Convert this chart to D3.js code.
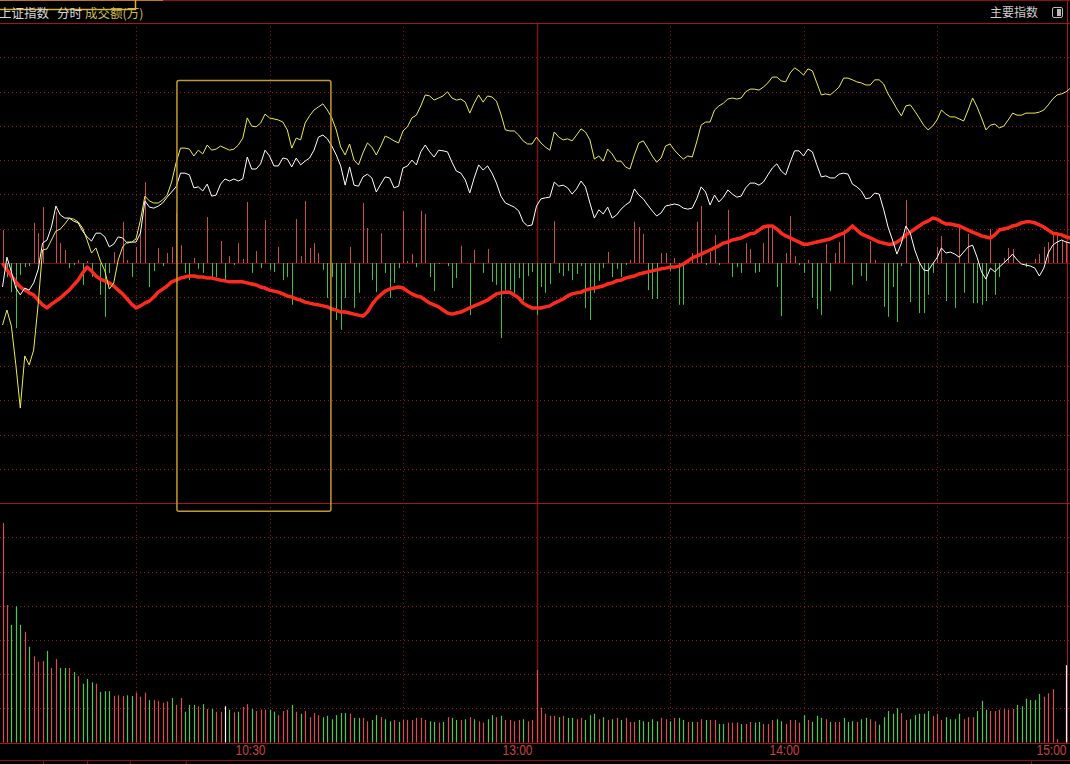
<!DOCTYPE html>
<html>
<head>
<meta charset="utf-8">
<script src="https://cdn.jsdelivr.net/npm/d3@7"></script>
<style>
  html, body { margin: 0; padding: 0; background: #000; overflow: hidden; }
  svg { display: block; }
</style>
</head>
<body>
<div id="chart"></div>
<script>
// 分时数据：9:30 - 15:00，每分钟一个点（共 241 个），单位：点（相对昨收）

// 白线：上证指数
const indexLine = [
  -7.0, 1.7, -2.6, -7.3, -9.3, -7.3, -7.9, -5.8, -2.0, 5.8,
  6.7, 10.5, 16.6, 14.0, 13.1, 13.1, 12.2, 11.7, 9.3, 7.6,
  6.4, 8.7, 8.7, 7.6, 4.7, 5.5, 7.6, 7.3, 5.8, 6.1,
  6.1, 8.7, 18.1, 16.3, 16.0, 16.6, 17.5, 19.2, 20.7, 22.2,
  26.2, 26.2, 25.7, 21.9, 22.2, 21.0, 23.0, 19.5, 19.8, 23.0,
  24.5, 23.9, 24.5, 23.9, 24.5, 30.9, 27.4, 27.4, 28.9, 32.9,
  31.2, 28.3, 28.3, 30.6, 30.3, 28.0, 30.6, 28.6, 29.7, 30.6,
  32.9, 36.7, 37.3, 36.2, 34.1, 31.5, 28.3, 22.7, 28.0, 22.7,
  22.4, 25.1, 25.9, 24.8, 20.7, 23.0, 25.1, 24.8, 21.9, 22.4,
  27.7, 28.3, 30.0, 28.6, 32.4, 34.4, 32.4, 30.9, 32.9, 32.7,
  32.4, 29.4, 26.8, 26.2, 24.2, 20.4, 24.8, 28.6, 27.1, 28.3,
  26.2, 23.3, 19.5, 17.5, 16.9, 16.3, 15.2, 12.0, 10.8, 11.1,
  16.6, 18.7, 19.0, 19.2, 23.6, 22.4, 22.7, 21.9, 20.1, 21.6,
  23.9, 22.2, 17.5, 13.1, 15.5, 14.3, 16.3, 13.1, 14.0, 15.7,
  16.9, 17.8, 21.6, 19.8, 18.7, 16.9, 15.2, 13.7, 14.6, 16.6,
  16.9, 17.2, 16.9, 16.0, 15.7, 16.0, 18.7, 22.2, 20.7, 16.9,
  19.8, 17.8, 19.2, 21.3, 20.1, 19.2, 19.5, 21.9, 23.3, 23.3,
  22.7, 23.6, 25.7, 27.7, 28.9, 26.8, 25.7, 29.4, 32.7, 32.7,
  31.2, 33.2, 32.4, 28.6, 25.1, 25.4, 24.8, 24.8, 25.9, 26.2,
  25.9, 23.0, 22.2, 21.0, 18.7, 19.0, 20.4, 20.1, 15.7, 10.5,
  6.7, 2.6, 5.8, 10.8, 8.7, 3.8, 0.3, -2.0, -2.3, -0.3,
  1.5, 4.4, 2.9, 3.2, 2.6, 1.7, 3.2, 4.7, 5.2, 1.7,
  -2.6, -4.7, -1.5, -2.6, -1.2, 0.0, 1.2, 2.6, 0.9, -0.3,
  -0.6, -0.9, -1.5, -3.8, -1.5, 2.9, 5.2, 6.1, 6.7, 6.1,
  5.8
];

// 黄线：不含加权指数
const equalLine = [
  -18.1, -13.7, -18.4, -29.7, -42.3, -27.1, -29.7, -25.4, -12.2, 3.8,
  4.1, 6.7, 9.3, 9.9, 11.4, 13.1, 12.8, 12.0, 10.2, 6.7,
  2.9, 4.4, 0.6, -2.3, -7.6, -5.8, 0.9, 4.7, 6.1, 6.1,
  7.0, 12.5, 19.5, 18.1, 17.5, 17.5, 18.4, 19.8, 23.6, 29.2,
  33.5, 33.5, 33.2, 31.2, 32.9, 31.8, 34.4, 32.9, 33.2, 34.1,
  33.5, 32.9, 33.2, 34.4, 36.4, 42.3, 39.9, 39.7, 40.8, 43.4,
  42.3, 42.0, 41.7, 41.1, 38.8, 33.5, 36.4, 35.9, 40.8, 42.9,
  44.6, 45.5, 46.4, 44.6, 42.3, 38.8, 33.8, 31.5, 34.7, 30.0,
  28.6, 32.1, 35.0, 33.8, 31.5, 34.1, 37.0, 36.4, 35.6, 35.0,
  38.5, 39.7, 42.3, 43.1, 45.8, 49.0, 48.7, 47.5, 48.1, 48.7,
  49.9, 48.1, 47.5, 47.8, 46.9, 43.7, 46.6, 49.0, 46.9, 48.7,
  48.4, 47.2, 43.4, 38.8, 38.5, 38.5, 37.3, 35.6, 34.7, 34.7,
  36.7, 35.0, 33.8, 32.9, 38.2, 36.7, 35.9, 36.2, 35.6, 37.3,
  39.1, 38.2, 35.9, 30.3, 31.2, 29.7, 33.2, 31.8, 29.7, 29.7,
  28.0, 27.4, 31.5, 35.0, 35.6, 33.5, 31.2, 29.4, 30.6, 34.1,
  34.7, 32.9, 31.5, 30.3, 31.2, 30.9, 35.3, 40.2, 41.1, 41.1,
  44.6, 45.8, 46.6, 47.8, 48.1, 47.8, 48.1, 49.9, 50.7, 50.7,
  50.4, 51.3, 52.5, 54.2, 54.2, 53.1, 52.8, 55.4, 56.9, 56.0,
  54.8, 56.6, 56.0, 52.5, 49.0, 49.3, 49.0, 50.1, 51.3, 53.9,
  53.9, 53.4, 52.8, 52.5, 51.9, 51.9, 53.4, 53.4, 52.2, 49.3,
  47.2, 44.9, 42.9, 45.8, 46.1, 44.3, 42.3, 40.2, 38.8, 39.9,
  41.7, 44.6, 43.4, 42.6, 42.6, 42.0, 41.4, 44.6, 48.1, 45.5,
  42.3, 38.8, 40.2, 40.5, 39.4, 39.9, 41.7, 43.7, 43.1, 43.1,
  43.7, 43.7, 43.7, 44.0, 44.6, 46.1, 47.8, 49.0, 49.3, 49.9,
  51.0
];

// 红色粗线
const trendLine = [
  0.0, -2.0, -3.8, -5.5, -7.0, -7.9, -8.7, -9.3, -10.8, -12.2,
  -13.1, -12.0, -11.1, -10.2, -9.0, -7.9, -6.4, -5.0, -2.9, -1.2,
  -2.3, -3.8, -4.7, -5.2, -5.8, -6.7, -7.9, -9.0, -10.5, -12.0,
  -13.1, -12.5, -11.7, -11.1, -9.9, -8.5, -7.6, -6.7, -5.5, -5.0,
  -4.4, -4.1, -3.8, -3.8, -4.1, -4.1, -4.4, -4.4, -4.7, -5.0,
  -5.2, -5.5, -5.5, -5.5, -5.5, -5.8, -6.1, -6.4, -7.0, -7.3,
  -7.9, -8.2, -8.5, -9.0, -9.6, -9.9, -10.5, -10.8, -11.4, -11.7,
  -12.0, -12.2, -12.5, -12.8, -13.4, -13.7, -14.3, -14.3, -14.6, -14.9,
  -15.2, -15.5, -14.3, -12.2, -10.5, -9.3, -8.2, -7.6, -7.3, -7.0,
  -7.3, -8.2, -9.0, -9.6, -9.9, -10.8, -11.7, -12.2, -12.8, -13.7,
  -14.6, -14.9, -14.6, -14.3, -13.7, -13.1, -12.5, -12.0, -11.4, -10.8,
  -9.9, -9.0, -8.7, -8.5, -8.5, -9.3, -10.2, -11.7, -12.5, -13.1,
  -13.1, -13.1, -12.8, -12.5, -11.7, -11.1, -10.5, -9.6, -9.0, -8.7,
  -8.5, -7.9, -7.6, -7.3, -7.0, -6.7, -6.1, -5.8, -5.2, -5.0,
  -4.4, -4.1, -3.8, -3.2, -2.9, -2.6, -2.3, -2.0, -1.7, -1.5,
  -1.2, -1.2, -0.9, -0.3, 0.6, 1.5, 2.0, 2.6, 3.2, 3.8,
  4.4, 5.0, 5.8, 6.1, 6.7, 7.0, 7.3, 7.9, 8.5, 8.7,
  9.6, 10.5, 10.8, 10.8, 9.9, 8.7, 7.9, 7.3, 6.7, 6.1,
  5.5, 5.5, 5.8, 6.1, 6.4, 6.7, 7.0, 7.6, 8.2, 8.7,
  9.6, 10.8, 9.6, 8.5, 7.9, 7.3, 6.7, 6.1, 5.8, 5.5,
  5.5, 6.1, 7.0, 8.2, 9.0, 9.9, 10.8, 11.7, 12.2, 13.1,
  12.8, 12.0, 11.4, 11.4, 11.1, 10.8, 10.2, 9.6, 9.0, 8.5,
  7.9, 7.6, 7.3, 8.2, 9.6, 9.9, 10.2, 10.8, 11.1, 11.7,
  12.0, 12.0, 11.7, 11.1, 10.5, 9.6, 8.7, 8.5, 8.2, 7.6,
  7.3
];

// 红绿柱（正为红，负为绿）
const powerBars = [
  9.6, -4.1, -8.5, -19.0, -3.5, -1.2, -0.9, 11.7, 8.7, 16.3,
  0, 0, 14.9, 5.8, 3.8, -1.5, -0.6, 0.9, -6.4, 0.6,
  -4.1, 0, -9.3, -15.7, -2.9, 3.2, 0, 12.0, 0.9, -4.1,
  4.7, 9.6, 23.6, -7.0, -2.3, 4.4, -0.9, 2.9, 4.7, 14.6,
  5.2, -2.9, -5.0, 1.5, -1.7, -2.9, 13.4, -4.1, -4.1, 6.4,
  -5.0, 2.0, -0.6, 5.8, 1.2, 17.8, -2.9, 3.5, -1.5, 12.5,
  -2.0, -2.6, 4.7, -5.0, -4.1, -12.2, 12.8, 2.0, 18.1, 4.4,
  5.8, 2.9, -2.0, -10.2, -4.1, -16.6, -19.5, -10.2, 4.7, -13.1,
  -8.7, 17.5, 10.2, -5.0, -8.5, 8.7, -2.9, -10.2, -5.8, -1.5,
  15.2, 0.6, 2.6, -1.2, 15.2, 14.3, -4.1, -8.2, -0.3, 0,
  -0.9, -7.3, -4.4, 5.0, 0, -15.2, 3.8, 0, -2.9, 4.1,
  -5.5, -6.4, -21.9, -8.2, -7.9, -8.7, -4.4, -10.8, -3.8, -2.6,
  -15.2, -7.0, -8.7, -6.1, 12.2, -2.9, -3.8, -2.3, -5.0, -3.2,
  -0.9, -13.1, -16.6, -8.7, -5.2, -1.5, 3.2, -4.1, -1.7, -4.1,
  -0.6, 0.9, 12.0, 10.5, 8.5, -7.9, -10.5, -10.5, 2.9, 2.9,
  -2.3, 1.5, -12.2, -12.2, 0.9, 2.9, 12.0, 16.6, -0.6, 3.2,
  8.2, -0.6, 0, 15.5, -4.1, -1.2, -2.9, 5.8, 4.1, -2.9,
  -2.6, 5.8, 10.8, 10.8, -7.0, -15.5, 2.9, 13.7, 2.0, -0.6,
  -2.9, 0.9, -10.2, -13.4, -15.2, 5.5, -8.2, 2.9, 6.1, 9.6,
  0, -6.4, 0, -3.8, -5.2, 6.4, 0.9, 0, -12.8, -15.7,
  -7.0, -17.2, -0.9, 18.4, -11.4, 0, -14.6, -14.6, -9.3, -2.9,
  4.7, 7.9, -11.1, 0, -13.1, 10.8, -8.7, 8.5, -11.7, -11.7,
  -12.2, -11.1, 9.9, -9.3, -4.1, 1.5, 4.4, 4.1, 0, 0,
  -1.2, 0, 1.2, 2.6, 4.7, 6.1, 8.7, 8.7, 6.7, 6.4,
  0
];

// 成交额
const volume = [
  321, 201, 172, 199, 172, 162, 140, 126, 118, 119,
  134, 109, 122, 109, 109, 109, 103, 97, 86, 93,
  88, 86, 74, 75, 75, 68, 69, 68, 69, 68,
  73, 67, 73, 62, 62, 61, 58, 60, 65, 55,
  65, 45, 55, 55, 53, 56, 49, 49, 45, 45,
  53, 48, 44, 45, 52, 56, 49, 46, 48, 48,
  48, 45, 40, 46, 48, 55, 45, 42, 46, 37,
  43, 40, 37, 39, 34, 40, 43, 43, 42, 36,
  36, 36, 31, 33, 40, 37, 34, 31, 33, 30,
  33, 33, 33, 36, 36, 33, 31, 30, 29, 30,
  37, 36, 33, 33, 34, 37, 34, 31, 29, 34,
  40, 37, 39, 33, 33, 31, 33, 34, 31, 33,
  106, 51, 42, 39, 39, 37, 39, 36, 36, 34,
  36, 33, 40, 42, 34, 37, 33, 34, 36, 33,
  36, 30, 30, 33, 31, 30, 34, 31, 36, 34,
  31, 36, 36, 33, 30, 30, 30, 34, 33, 33,
  33, 27, 27, 29, 29, 29, 27, 27, 30, 29,
  30, 27, 27, 33, 34, 31, 27, 33, 33, 29,
  40, 33, 30, 39, 36, 34, 30, 30, 30, 36,
  30, 31, 30, 34, 36, 34, 31, 26, 37, 46,
  42, 50, 43, 33, 34, 40, 42, 42, 46, 39,
  42, 33, 37, 34, 34, 42, 34, 37, 37, 46,
  61, 48, 46, 46, 48, 49, 48, 49, 55, 53,
  64, 62, 62, 71, 67, 72, 78, 5, 0, 113,
  0
];

// 成交额柱颜色：R 涨 / G 跌 / W 平
const volumeDir = [
  "RRGGGRGRRR", "GRRGGRGRGG", "GRGGGRRRGG", "RRRGRRRRGR", "RGGGRGRGRR",
  "WGRGRRGRRR", "GGRRRGRGRR", "RRGGGGGGRG", "GRRGGRGGRG", "RRRRRRGGRG",
  "RGGRGRGRRG", "GRGRRRRGRR", "RRRRRGRGGR", "RGGGRGRGRG", "RRRGGGGGRR",
  "GRGGRGRRGR", "RGGRRRGRRG", "GRRRGGRRRR", "GRGGGRGRRG", "GGRGGRRGGG",
  "GGRRGGGGGR", "RRGGGGRRRG", "GGRRRRRRGG", "GGGGRRRRRW", "R"
].join("").split("");

// 时间轴
const tickMinutes = [60, 120, 180, 240];
const tickLabels = ["10:30", "13:00", "14:00", "15:00"];
const gridMinutes = [30, 60, 90, 150, 180, 210];
const noonMinute = 120;

// 选框：[起始分钟, 结束分钟, 上沿(点), 下沿(点)]
const selectBox = [39.2, 73.8, 53.2, -72.4];

const colors = {
  grid: "#8e1c1c",
  frame: "#a3161a",
  white: "#ffffff",
  yellow: "#eded4c",
  trend: "#ff2a1e",
  barUp: "#cc4c4c",
  barDown: "#3cc23c",
  volUp: "#d84e4e",
  volDown: "#4cc84c",
  label: "#c84040"
};

function drawChart() {
  const width = 1070, height = 764;
  const svg = d3.select("#chart").append("svg")
    .attr("width", width)
    .attr("height", height)
    .style("background", "#000");

  // 比例尺
  const x = d3.scaleLinear().domain([0, 240]).range([2.5, 1070.5]);
  const yMain = d3.scaleLinear().domain([-70, 70]).range([503.1, 22.9]);
  const yVol = d3.scaleLinear().domain([0, 350]).range([742.5, 503.1]);
  const px = v => Math.round(v) + 0.5;

  // 网格
  const grid = svg.append("g");
  grid.selectAll(".hmain")
    .data(d3.range(-60, 70, 10).filter(d => d !== 0))
    .enter().append("line")
    .attr("x1", 0).attr("x2", width)
    .attr("y1", d => px(yMain(d))).attr("y2", d => px(yMain(d)))
    .attr("stroke", colors.grid).attr("stroke-dasharray", "1,3");
  grid.selectAll(".hvol")
    .data(d3.range(50, 350, 50))
    .enter().append("line")
    .attr("x1", 0).attr("x2", width)
    .attr("y1", d => px(yVol(d))).attr("y2", d => px(yVol(d)))
    .attr("stroke", colors.grid).attr("stroke-dasharray", "1,3");
  grid.selectAll(".vgrid")
    .data(gridMinutes)
    .enter().append("line")
    .attr("x1", d => px(x(d))).attr("x2", d => px(x(d)))
    .attr("y1", yMain.range()[1]).attr("y2", yVol(0))
    .attr("stroke", colors.grid).attr("stroke-dasharray", "1,3");
  grid.append("line")
    .attr("x1", px(x(noonMinute))).attr("x2", px(x(noonMinute)))
    .attr("y1", yMain.range()[1]).attr("y2", yVol(0))
    .attr("stroke", "#801010").attr("stroke-width", 1.5);

  // 边框
  const frame = svg.append("g").attr("stroke", colors.frame).attr("stroke-width", 1);
  [yMain.range()[1], yMain.range()[0], yVol(0)].forEach(y => {
    frame.append("line").attr("x1", 0).attr("x2", width).attr("y1", px(y)).attr("y2", px(y));
  });
  frame.append("line").attr("x1", 0).attr("x2", width)
    .attr("y1", px(yMain(0))).attr("y2", px(yMain(0))).attr("stroke", "#7a1010");
  frame.append("line").attr("x1", 1067.5).attr("x2", 1067.5).attr("y1", 0).attr("y2", yVol(0));
  frame.append("line").attr("x1", 163).attr("x2", width).attr("y1", 0.5).attr("y2", 0.5).attr("stroke", "#8a1212");
  frame.append("line").attr("x1", 0).attr("x2", width).attr("y1", 760.5).attr("y2", 760.5).attr("stroke", "#8a1212");
  [43.5, 87.5, 130.5, 186.5, 1031.5].forEach(xx => {
    frame.append("line").attr("x1", xx).attr("x2", xx).attr("y1", 760).attr("y2", 764).attr("stroke", "#8a1212");
  });

  // 标题栏
  svg.append("path").attr("d", "M0,0.5H163").attr("stroke", "#c07a1a").attr("fill", "none");
  svg.append("path").attr("d", "M0,9.5H135.5V0").attr("stroke", "#e0b020").attr("stroke-width", 1.5).attr("fill", "none");
  const title = svg.append("g")
    .style("font-family", "'Noto Sans CJK SC', sans-serif")
    .style("font-size", "12.5px");
  title.append("text").attr("x", -1).attr("y", 18).attr("fill", "#d8d8d8").text("上证指数");
  title.append("text").attr("x", 57).attr("y", 18).attr("fill", "#d8d8d8").text("分时");
  title.append("text").attr("x", 85).attr("y", 18).attr("fill", "#cbbd52").text("成交额(万)");
  title.append("text").attr("x", 1038).attr("y", 17).attr("text-anchor", "end")
    .attr("fill", "#cccccc").style("font-size", "12px").text("主要指数");
  svg.append("rect").attr("x", 1052.5).attr("y", 7.5).attr("width", 10).attr("height", 10)
    .attr("rx", 1.5).attr("fill", "none").attr("stroke", "#b8b8b8");
  svg.append("rect").attr("x", 1057).attr("y", 9).attr("width", 4).attr("height", 7).attr("fill", "#b8b8b8");

  // 红绿柱
  svg.append("g").selectAll("line")
    .data(powerBars.map((v, i) => ({ i, v })).filter(d => d.v !== 0))
    .enter().append("line")
    .attr("x1", d => px(x(d.i))).attr("x2", d => px(x(d.i)))
    .attr("y1", yMain(0)).attr("y2", d => yMain(d.v))
    .attr("stroke", d => d.v > 0 ? colors.barUp : colors.barDown)
    .attr("stroke-width", 1);

  // 成交额柱
  svg.append("g").selectAll("line")
    .data(volume.map((v, i) => ({ i, v, dir: volumeDir[i] })).filter(d => d.v > 0))
    .enter().append("line")
    .attr("x1", d => px(x(d.i))).attr("x2", d => px(x(d.i)))
    .attr("y1", yVol(0)).attr("y2", d => yVol(d.v))
    .attr("stroke", d => d.dir === "R" ? colors.volUp : d.dir === "G" ? colors.volDown : "#ffffff")
    .attr("stroke-width", 1.2);

  // 折线
  const line = d3.line().x((d, i) => x(i)).y(d => yMain(d));
  svg.append("path").datum(trendLine).attr("d", line)
    .attr("fill", "none").attr("stroke", colors.trend).attr("stroke-width", 3.5)
    .attr("stroke-linejoin", "round");
  svg.append("path").datum(indexLine).attr("d", line)
    .attr("fill", "none").attr("stroke", colors.white).attr("stroke-width", 1);
  svg.append("path").datum(equalLine).attr("d", line)
    .attr("fill", "none").attr("stroke", colors.yellow).attr("stroke-width", 1);

  // 选框
  svg.append("rect")
    .attr("x", x(selectBox[0])).attr("y", yMain(selectBox[2]))
    .attr("width", x(selectBox[1]) - x(selectBox[0]))
    .attr("height", yMain(selectBox[3]) - yMain(selectBox[2]))
    .attr("rx", 2)
    .attr("fill", "none").attr("stroke", "#c49a2c").attr("stroke-width", 1.5);

  // 时间轴
  const xAxis = d3.axisBottom(x)
    .tickValues(tickMinutes)
    .tickFormat((d, i) => tickLabels[i])
    .tickSize(0)
    .tickPadding(3);
  const axisG = svg.append("g")
    .attr("transform", `translate(0,${yVol(0)})`)
    .call(xAxis);
  axisG.select(".domain").remove();
  axisG.selectAll("text")
    .attr("text-anchor", "end")
    .attr("dx", -4.5)
    .attr("fill", colors.label)
    .attr("textLength", 30)
    .attr("lengthAdjust", "spacingAndGlyphs")
    .style("font-family", "'Liberation Sans', Arial, sans-serif")
    .style("font-size", "14px");
}

drawChart();
</script>
</body>
</html>
